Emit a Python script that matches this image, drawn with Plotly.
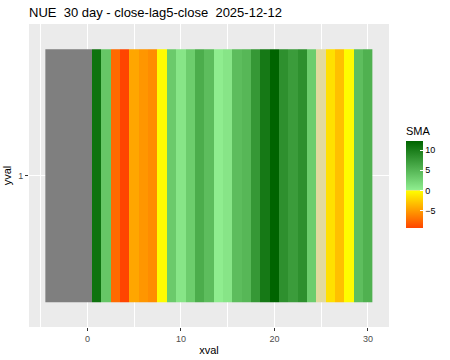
import plotly.graph_objects as go
import numpy as np

xvals = list(range(-4, 31))
sma = [None, None, None, None, None,
       11.0, 3.6, -7.5, -9.35, -4.5, -5.3, -5.8, -0.2, 3.2, 0.8,
       3.0, 5.8, 4.4, 0.1, 0.8, 4.4, 4.9, 7.7, 10.4, 12.3,
       8.4, 7.3, 8.4, 3.0, 0.0, -1.6, -3.2, -0.2, 4.3, 5.5]
yvals = ["1"]
title_text = "NUE\u00a0\u00a030 day - close-lag5-close\u00a0\u00a02025-12-12"

zmin, zmax = -9.35, 12.3
f0 = (0 - zmin) / (zmax - zmin)
colorscale = [
    [0.0, "#ff4500"],
    [f0 - 0.002, "#ffff00"],
    [f0, "#e2da9e"],
    [f0 + 0.002, "#90ee90"],
    [1.0, "#006400"],
]

na_z = [[1 if v is None else None for v in sma]]
val_z = [[np.nan if v is None else v for v in sma]]

fig = go.Figure()
fig.add_trace(go.Heatmap(x=xvals, y=yvals, z=na_z, colorscale=[[0, "#7f7f7f"], [1, "#7f7f7f"]],
                         showscale=False, hoverinfo="skip"))
fig.add_trace(go.Heatmap(
    x=xvals, y=yvals, z=val_z, zmin=zmin, zmax=zmax, colorscale=colorscale,
    colorbar=dict(
        title=dict(text="SMA", side="top", font=dict(size=11, color="#000000")),
        thickness=17, lenmode="pixels", len=104,
        x=1.044, xanchor="left", y=(327 - 124) / 303, yanchor="top",
        xpad=0, ypad=0, outlinewidth=0,
        tickvals=[-5, 0, 5, 10], ticks="inside", ticklen=3, tickcolor="white",
        tickfont=dict(size=9, color="#000000"),
    ),
))

fig.update_layout(
    width=450, height=360,
    margin=dict(l=29, r=60, t=24, b=33),
    paper_bgcolor="white", plot_bgcolor="#ebebeb",
    font=dict(family="Liberation Sans, Arial, sans-serif", color="#000000"),
    title=dict(text=title_text, x=29/450, xanchor="left", y=1 - 12/360, yanchor="middle",
               font=dict(size=13, color="#000000")),
    xaxis=dict(range=[-6.25, 32.25], tickvals=[0, 10, 20, 30], showgrid=True, automargin=False,
               gridcolor="white", gridwidth=1.1, zeroline=False,
               minor=dict(tickvals=[-5, 5, 15, 25], showgrid=True, gridcolor="white", gridwidth=0.5),
               ticks="outside", ticklen=3, tickcolor="#333333",
               tickfont=dict(size=9, color="#4d4d4d"),
               title=dict(text="xval", font=dict(size=11, color="#000000"), standoff=3)),
    yaxis=dict(type="category", range=[-0.6, 0.6], showgrid=True, gridcolor="white", automargin=False,
               gridwidth=1.1, zeroline=False, ticks="outside", ticklen=3, tickcolor="#333333",
               tickfont=dict(size=9, color="#4d4d4d"),
               title=dict(text="yval", font=dict(size=11, color="#000000"), standoff=4)),
)

fig.write_html("out.html")
